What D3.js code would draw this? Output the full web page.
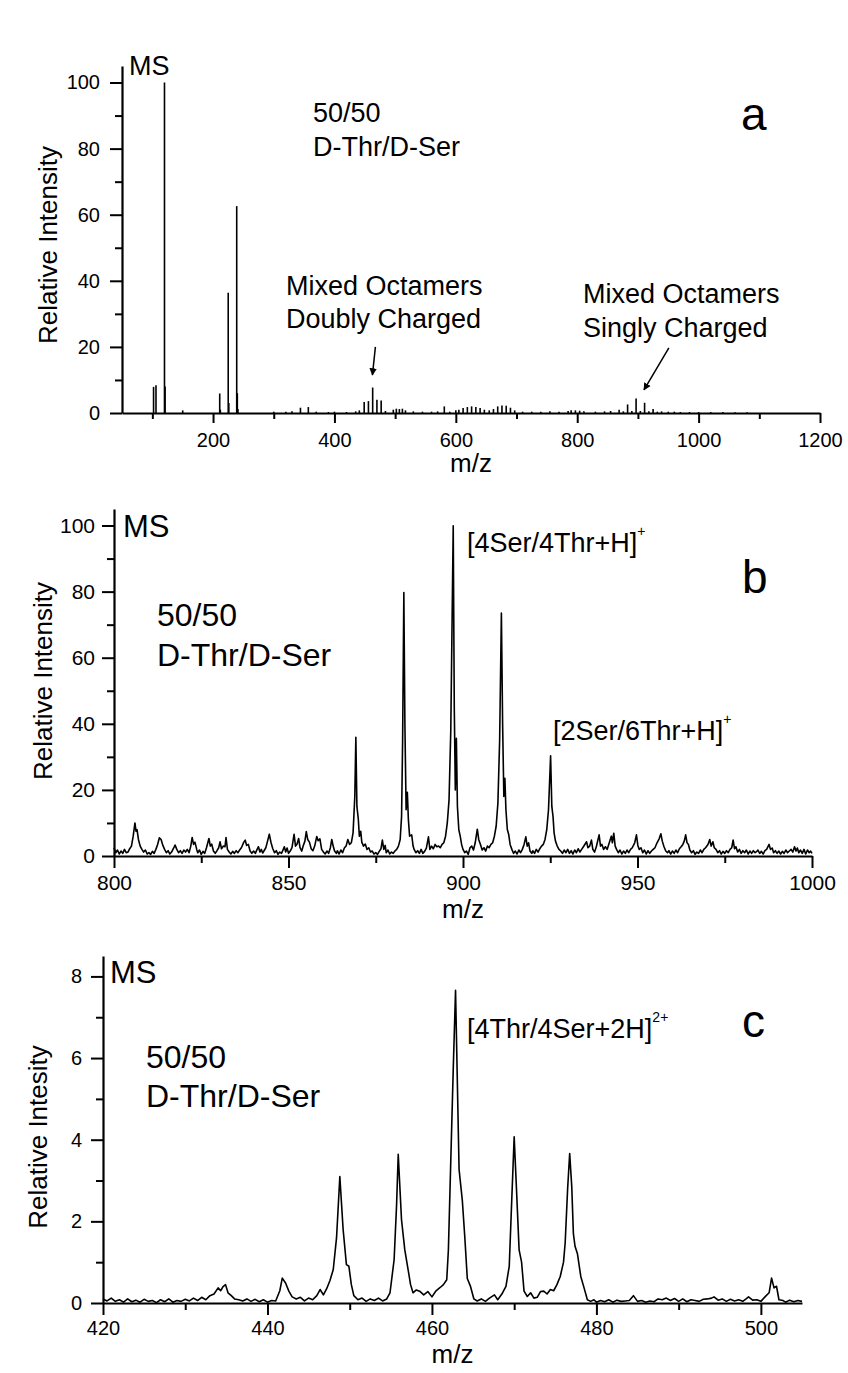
<!DOCTYPE html>
<html>
<head>
<meta charset="utf-8">
<script src="https://cdn.jsdelivr.net/npm/d3@7"></script>
<style>
body { margin: 0; background: #fff; }
text { font-family: "Liberation Sans", Arial, sans-serif; fill: #000; }
</style>
</head>
<body>
<script>
// panel a : stick spectrum, [m/z, relative intensity]
const sticksA = [
  [102, 7.9], [106, 8.4], [120, 100], [121, 8], [150, 0.8],
  [211, 5.9], [212, 1], [225, 36.4], [226, 3], [239, 62.6], [240, 6], [241, 1.2],
  [300, 0.4], [320, 0.4], [330, 0.5], [344, 1.6], [357, 1.8], [370, 0.4], [390, 0.3], [400, 0.4],
  [420, 0.3], [435, 0.5], [441, 0.8], [449, 3.3], [456, 3.6], [463, 7.7], [470, 4.0], [477, 3.8], [484, 0.6],
  [497, 1.0], [502, 1.3], [507, 1.2], [512, 1.3], [517, 0.8], [530, 0.5], [545, 0.4], [560, 0.4], [570, 0.5],
  [581, 2.0], [590, 0.4], [600, 0.8], [605, 1.0], [612, 1.5], [619, 1.8], [626, 2.0], [633, 1.8], [640, 1.5],
  [647, 1.0], [655, 0.8], [662, 1.2], [669, 2.0], [676, 2.3], [683, 2.2], [690, 1.6], [697, 0.8],
  [710, 0.4], [725, 0.4], [740, 0.4], [755, 0.5], [770, 0.4], [785, 0.6], [790, 0.8], [797, 0.8], [804, 0.7],
  [811, 0.5], [830, 0.4], [845, 0.5], [855, 0.6], [869, 1.0], [876, 0.5], [883, 2.6], [890, 0.6], [897, 4.4],
  [904, 0.6], [911, 3.1], [918, 0.5], [925, 1.2], [932, 0.4], [939, 0.5], [950, 0.4], [960, 0.4], [970, 0.3],
  [985, 0.3], [1000, 0.3], [1020, 0.3], [1040, 0.3], [1060, 0.2], [1080, 0.2]
];

// panel b : profile spectrum 800-1000
const specB = [
  [800,2.5],[800.5,1.0],[801,1.8],[801.5,0.6],[802,1.5],[802.5,0.8],[803,2.0],[803.5,1.0],[804,1.2],[804.5,2.2],
  [805,3.0],[805.5,6.0],[806,10.0],[806.3,7.5],[806.6,8.0],[807,5.0],[807.5,3.0],[808,2.0],[808.5,1.2],[809,1.8],
  [809.5,0.6],[810,1.0],[810.5,0.5],[811,1.4],[811.5,0.8],[812,2.0],[812.5,3.5],[813,5.5],[813.5,5.0],[814,3.2],
  [814.5,2.0],[815,1.0],[815.5,1.6],[816,0.6],[816.5,1.2],[817,2.2],[817.5,3.3],[818,2.0],[818.5,1.0],[819,1.6],
  [819.5,0.8],[820,1.8],[820.5,1.2],[821,2.0],[821.5,1.0],[822,3.0],[822.4,5.6],[822.8,3.5],[823.2,4.2],[823.7,2.0],
  [824,1.0],[824.5,1.8],[825,0.5],[825.5,1.4],[826,0.8],[826.5,2.5],[827.2,5.3],[827.6,3.0],[828,3.6],[828.5,1.5],
  [829,0.8],[829.5,1.6],[830,2.5],[830.4,4.3],[830.8,2.2],[831.3,3.0],[831.8,2.8],[832.1,5.6],[832.5,2.0],[833,1.2],
  [833.5,0.6],[834,1.4],[834.5,0.8],[835,1.6],[835.5,1.0],[836,1.8],[836.5,2.5],[837.2,4.2],[837.6,4.8],[838,3.2],
  [838.5,3.5],[839,1.5],[839.5,0.8],[840,1.5],[840.5,0.8],[841,2.0],[841.4,2.8],[841.8,1.2],[842.2,2.0],[842.6,0.9],
  [843,1.6],[843.5,2.5],[844,4.5],[844.5,6.6],[845,4.0],[845.5,2.2],[846,1.0],[846.5,1.6],[847,0.5],[847.5,1.2],
  [848,0.8],[848.5,2.0],[848.8,2.8],[849.2,1.2],[849.6,2.4],[850,0.8],[850.5,1.5],[851,2.5],[851.6,6.6],[852,3.0],
  [852.4,3.5],[852.9,5.3],[853.3,2.5],[853.8,1.5],[854.2,3.0],[854.7,4.5],[855.1,7.4],[855.5,5.0],[856,4.2],[856.5,2.2],
  [857,1.6],[857.5,3.0],[858.1,5.9],[858.5,4.6],[859,5.2],[859.5,2.0],[860,1.2],[860.5,0.6],[861,1.5],[861.5,0.8],
  [862,2.5],[862.4,5.0],[862.8,3.0],[863.2,1.5],[863.7,0.8],[864,1.6],[864.5,0.6],[865,1.8],[865.5,1.0],[866,2.4],
  [866.5,3.0],[867,5.0],[867.5,3.5],[868,4.0],[868.5,7.0],[869,18.0],[869.3,35.9],[869.6,15.0],[870,11.2],[870.3,6.0],
  [870.7,7.5],[871,4.2],[871.5,3.0],[872,3.6],[872.5,2.0],[873,2.5],[873.5,1.2],[874,1.5],[874.5,0.6],[875,1.0],
  [875.5,0.5],[876,1.4],[876.5,2.2],[876.9,4.8],[877.3,2.0],[877.7,3.2],[878,1.0],[878.5,1.8],[879,0.6],[879.5,1.2],
  [880,0.8],[880.5,1.5],[881,2.0],[881.5,3.0],[882,5.0],[882.4,12.0],[882.7,35.0],[883.05,79.7],[883.35,40.0],[883.7,14.0],
  [884.05,19.3],[884.35,11.0],[884.7,6.0],[885.3,6.4],[885.7,3.0],[886,2.0],[886.5,1.0],[887,1.6],[887.5,0.8],[888,2.0],
  [888.5,0.8],[889,1.4],[889.5,2.4],[890.1,5.8],[890.5,2.0],[891,3.0],[891.5,2.2],[892,3.5],[892.5,2.8],[893,3.0],
  [893.5,2.5],[894,3.5],[894.5,4.0],[895,6.0],[895.5,10.0],[896,17.0],[896.5,38.0],[897.2,99.9],[897.5,45.0],[897.8,20.0],
  [898.1,35.6],[898.4,15.0],[898.8,8.0],[899.2,6.0],[899.6,3.5],[900,2.0],[900.5,1.0],[901,1.5],[901.5,0.5],[902,2.5],
  [902.5,3.0],[903,1.8],[903.5,4.0],[904.1,8.1],[904.5,5.0],[905,3.5],[905.5,1.8],[906,2.5],[906.5,1.5],[907,3.0],
  [907.5,2.5],[908,3.5],[908.5,4.0],[909,6.0],[909.5,9.0],[910,16.0],[910.5,35.0],[911.0,73.5],[911.35,40.0],[911.7,18.0],
  [912.0,23.5],[912.3,14.0],[912.7,8.0],[913.1,6.5],[913.5,3.5],[914,2.0],[914.5,0.8],[915,1.5],[915.5,0.6],[916,1.8],
  [916.5,1.0],[917,2.0],[917.5,3.5],[918,5.8],[918.4,3.0],[918.8,4.0],[919.2,1.5],[919.7,0.8],[920,1.6],[920.5,0.8],
  [921,2.0],[921.5,1.2],[922,2.2],[922.5,3.0],[923,3.5],[923.5,5.0],[924,8.0],[924.5,14.0],[925.1,30.3],[925.45,15.0],
  [925.8,11.9],[926.1,7.0],[926.5,4.5],[927,3.0],[927.5,2.0],[928,1.5],[928.5,0.8],[929,1.8],[929.5,1.0],[930,2.0],
  [930.5,0.8],[931,1.6],[931.5,0.6],[932,1.8],[932.5,1.0],[933,2.2],[933.5,1.2],[934,2.0],[934.5,2.8],[935.4,4.3],
  [935.8,2.5],[936.3,3.0],[936.8,4.8],[937.2,2.0],[937.7,1.2],[938.2,2.8],[939.0,6.4],[939.4,3.0],[939.8,3.5],[940.3,2.0],
  [940.8,2.8],[941.3,2.0],[941.8,3.6],[942.5,6.0],[942.8,4.0],[943.2,6.9],[943.6,3.0],[944,2.0],[944.5,1.0],[945,1.8],
  [945.5,0.6],[946,1.5],[946.5,0.8],[947,1.8],[947.5,1.0],[948,2.0],[948.5,2.5],[949.2,4.0],[949.7,6.4],[950.1,3.2],
  [950.5,2.0],[951,2.5],[951.5,1.0],[952,1.8],[952.5,0.6],[953,1.6],[953.5,0.8],[954,1.5],[954.5,2.0],[955,2.5],
  [955.6,4.0],[956.2,5.2],[956.7,6.7],[957.1,4.5],[957.6,2.8],[958.1,1.5],[958.6,1.0],[959,1.6],[959.5,0.6],[960,1.5],
  [960.5,0.8],[961,1.8],[961.5,1.0],[962,2.2],[962.5,2.8],[963,3.5],[963.4,4.5],[963.8,6.4],[964.2,4.0],[964.6,3.5],
  [965,1.8],[965.5,1.0],[966,1.6],[966.5,0.5],[967,1.2],[967.5,0.8],[968,1.8],[968.5,1.0],[969,2.0],[969.5,2.5],
  [970.2,3.5],[970.7,5.0],[971.1,3.0],[971.6,4.3],[972,2.5],[972.5,2.0],[973,1.0],[973.5,1.6],[974,0.6],[974.5,1.4],
  [975,0.8],[975.5,1.6],[976,1.0],[976.5,2.0],[977,2.5],[977.4,4.8],[977.8,2.2],[978.2,2.8],[978.7,1.2],[979.2,2.0],
  [979.7,0.8],[980.2,1.6],[980.7,1.0],[981.2,1.8],[981.7,0.6],[982.2,1.5],[982.7,0.8],[983.2,1.6],[983.7,1.0],[984.2,1.4],
  [984.5,1.8],[985,0.8],[985.5,1.4],[986,0.6],[986.5,1.6],[987,2.0],[987.7,3.5],[988.1,2.0],[988.6,2.4],[989,1.0],
  [989.5,1.6],[990,0.8],[990.5,1.5],[991,0.6],[991.5,1.4],[992,0.8],[992.5,1.8],[993,1.0],[993.5,1.5],[994,2.0],
  [994.5,1.2],[995,2.8],[995.4,1.5],[995.8,2.4],[996.2,1.0],[996.7,1.8],[997.2,0.8],[997.7,2.0],[998.2,0.6],[998.7,1.8],
  [999.2,1.0],[999.6,1.5],[1000,0.8]
];

// panel c : profile spectrum 420-505 (doubly charged octamers)
const specC = [
  [420,0.10],[420.5,0.05],[421,0.12],[421.5,0.04],[422,0.08],[422.5,0.02],[423,0.10],[423.5,0.03],[424,0.07],[424.5,0.02],
  [425,0.09],[425.5,0.04],[426,0.06],[426.5,0.01],[427,0.08],[427.5,0.03],[428,0.10],[428.5,0.02],[429,0.06],[429.5,0.04],
  [430,0.09],[430.5,0.05],[431,0.12],[431.5,0.06],[432,0.14],[432.5,0.08],[433,0.18],[433.5,0.22],[434,0.37],[434.3,0.30],
  [434.6,0.40],[434.9,0.45],[435.2,0.25],[435.6,0.18],[436,0.10],[436.5,0.08],[437,0.05],[437.5,0.10],[438,0.04],[438.5,0.09],
  [439,0.03],[439.5,0.08],[440,0.02],[440.5,0.06],[441,0.05],[441.5,0.30],[441.8,0.61],[442.2,0.49],[442.6,0.29],[443,0.15],
  [443.5,0.10],[444,0.14],[444.5,0.05],[445,0.12],[445.5,0.08],[446,0.18],[446.4,0.33],[446.8,0.20],[447.2,0.35],[447.6,0.55],
  [448,0.82],[448.4,1.6],[448.8,3.1],[449.2,1.8],[449.6,0.94],[449.9,0.90],[450.2,0.45],[450.5,0.18],[451,0.08],[451.5,0.12],
  [452,0.04],[452.5,0.10],[453,0.06],[453.5,0.12],[454,0.05],[454.5,0.10],[454.9,0.25],[455.4,1.06],[455.7,2.4],[455.9,3.64],
  [456.3,2.04],[456.7,1.3],[457.1,0.82],[457.4,0.45],[457.7,0.25],[458.1,0.32],[458.5,0.29],[459,0.20],[459.5,0.28],[460,0.15],
  [460.5,0.30],[461,0.38],[461.4,0.45],[461.8,0.57],[462.0,1.3],[462.2,2.8],[462.6,5.8],[462.87,7.66],[463.3,3.27],[463.7,2.5],
  [464.0,1.6],[464.3,0.6],[464.7,0.4],[465.1,0.1],[465.5,0.05],[466,0.10],[466.5,0.04],[467,0.12],[467.6,0.20],[468,0.08],
  [468.5,0.22],[469.0,0.41],[469.4,0.9],[469.7,2.5],[470.0,4.07],[470.3,2.7],[470.6,1.3],[470.9,1.0],[471.2,0.29],[471.6,0.16],
  [472,0.25],[472.4,0.12],[472.8,0.14],[473.2,0.28],[473.6,0.29],[474,0.22],[474.4,0.33],[474.8,0.30],[475.2,0.45],[475.6,0.65],
  [476.0,1.0],[476.2,1.47],[476.5,2.8],[476.75,3.66],[477.0,2.86],[477.2,1.7],[477.4,1.39],[477.7,1.2],[478.1,0.65],[478.5,0.37],
  [478.9,0.08],[479.3,0.04],[479.7,0.08],[480,0.02],[480.5,0.06],[481,0.03],[481.5,0.08],[482,0.02],[482.5,0.07],[483,0.04],
  [483.5,0.05],[484,0.06],[484.5,0.18],[485,0.04],[485.5,0.06],[486,0.02],[486.5,0.05],[487,0.03],[487.5,0.10],[488,0.08],
  [488.5,0.12],[489,0.06],[489.5,0.11],[490,0.04],[490.5,0.10],[491,0.03],[491.5,0.08],[492,0.06],[492.5,0.04],[493,0.09],
  [493.5,0.10],[494,0.12],[494.3,0.15],[494.8,0.07],[495.3,0.10],[495.8,0.04],[496.3,0.09],[496.8,0.05],[497.3,0.08],[497.8,0.04],
  [498.2,0.10],[498.5,0.15],[499,0.07],[499.5,0.08],[500,0.04],[500.5,0.15],[501,0.25],[501.3,0.61],[501.6,0.37],[501.9,0.41],
  [502.2,0.08],[502.7,0.06],[503,0.02],[503.5,0.07],[504,0.03],[504.5,0.06],[505,0.04]
];

// tick values
const xMajorA = [200, 400, 600, 800, 1000, 1200];
const xMinorA = [100, 300, 500, 700, 900, 1100];
const yMajorA = [0, 20, 40, 60, 80, 100];
const yMinorA = [10, 30, 50, 70, 90];
const xMajorB = [800, 850, 900, 950, 1000];
const xMinorB = [825, 875, 925, 975];
const yMajorB = [0, 20, 40, 60, 80, 100];
const yMinorB = [10, 30, 50, 70, 90];
const xMajorC = [420, 440, 460, 480, 500];
const xMinorC = [430, 450, 470, 490];
const yMajorC = [0, 2, 4, 6, 8];
const yMinorC = [1, 3, 5, 7];

const svg = d3.select("body").append("svg")
  .attr("width", 848).attr("height", 1373);

svg.append("defs").append("marker")
  .attr("id", "head").attr("viewBox", "0 0 10 10").attr("refX", 9).attr("refY", 5)
  .attr("markerWidth", 5).attr("markerHeight", 6).attr("orient", "auto-start-reverse")
  .append("path").attr("d", "M0,0 L10,5 L0,10 z").attr("fill", "#000");

const fmt = d3.format("d");

function drawAxes(p) {
  const g = svg.append("g");
  const y0 = p.y.range()[0], x0 = p.x.range()[0];
  // minor ticks first
  g.append("g").attr("transform", `translate(0,${y0})`)
    .call(d3.axisBottom(p.x).tickValues(p.xMinor).tickSize(p.minX).tickFormat("").tickSizeOuter(0))
    .call(s => s.select(".domain").remove());
  g.append("g").attr("transform", `translate(${x0},0)`)
    .call(d3.axisLeft(p.y).tickValues(p.yMinor).tickSize(7).tickFormat("").tickSizeOuter(0))
    .call(s => s.select(".domain").remove());
  const xa = g.append("g").attr("transform", `translate(0,${y0})`)
    .call(d3.axisBottom(p.x).tickValues(p.xMajor).tickFormat(fmt).tickSize(p.majX).tickPadding(p.padX).tickSizeOuter(0));
  const ya = g.append("g").attr("transform", `translate(${x0},0)`)
    .call(d3.axisLeft(p.y).tickValues(p.yMajor).tickFormat(fmt).tickSize(12).tickPadding(p.padY).tickSizeOuter(0));
  g.selectAll("path,line").attr("stroke", "#000").attr("stroke-width", 2);
  g.selectAll("text").attr("font-size", p.tickFont).attr("fill", "#000")
    .style("font-family", '"Liberation Sans", Arial, sans-serif');
  xa.select(".domain").attr("stroke-width", 2.2);
  ya.select(".domain").attr("stroke-width", 2.2);
  // axis titles
  svg.append("text").attr("x", (p.x.range()[0] + p.x.range()[1]) / 2).attr("y", p.xTitleY)
    .attr("text-anchor", "middle").attr("font-size", 26).text("m/z");
  svg.append("text").attr("transform", `translate(${p.yTitleX},${p.yTitleY}) rotate(-90)`)
    .attr("text-anchor", "middle").attr("font-size", 26).text(p.yTitle);
}

function label(x, y, size, str) {
  return svg.append("text").attr("x", x).attr("y", y).attr("font-size", size).text(str);
}

// ---------- panel a ----------
const xA = d3.scaleLinear().domain([50, 1200]).range([122, 820]);
const yA = d3.scaleLinear().domain([0, 105]).range([413, 66]);
drawAxes({x: xA, y: yA, xMajor: xMajorA, xMinor: xMinorA, yMajor: yMajorA, yMinor: yMinorA,
  majX: 10, minX: 6, padX: 10, padY: 10, tickFont: 20,
  xTitleY: 472, yTitleX: 57, yTitleY: 245, yTitle: "Relative Intensity"});

svg.append("g").selectAll("line").data(sticksA).join("line")
  .attr("x1", d => xA(d[0])).attr("x2", d => xA(d[0]))
  .attr("y1", yA(0)).attr("y2", d => yA(d[1]))
  .attr("stroke", "#000").attr("stroke-width", 1.6);

label(129, 75, 27, "MS");
label(313, 122, 27, "50/50");
label(313, 156, 27, "D-Thr/D-Ser");
label(741, 130, 46, "a");
label(286, 295, 27, "Mixed Octamers");
label(286, 328, 27, "Doubly Charged");
label(583, 303, 27, "Mixed Octamers");
label(583, 337, 27, "Singly Charged");

const arrowsA = [[[467.5, 20], [462.6, 11.5]], [[951, 19.7], [910, 7]]];
svg.append("g").selectAll("path").data(arrowsA).join("path")
  .attr("d", d => `M${xA(d[0][0])},${yA(d[0][1])} L${xA(d[1][0])},${yA(d[1][1])}`)
  .attr("stroke", "#000").attr("stroke-width", 1.5).attr("marker-end", "url(#head)");

// ---------- panel b ----------
const xB = d3.scaleLinear().domain([800, 1000]).range([114, 812]);
const yB = d3.scaleLinear().domain([0, 105]).range([856, 509]);
drawAxes({x: xB, y: yB, xMajor: xMajorB, xMinor: xMinorB, yMajor: yMajorB, yMinor: yMinorB,
  majX: 12, minX: 7, padX: 7, padY: 7, tickFont: 21,
  xTitleY: 918, yTitleX: 52, yTitleY: 681, yTitle: "Relative Intensity"});

svg.append("path").datum(specB)
  .attr("d", d3.line().x(d => xB(d[0])).y(d => yB(d[1])))
  .attr("fill", "none").attr("stroke", "#000").attr("stroke-width", 1.6).attr("stroke-linejoin", "round");

label(123, 537, 31, "MS");
label(157, 626, 32, "50/50");
label(157, 666, 32, "D-Thr/D-Ser");
label(742, 593, 46, "b");
label(467, 552, 27, "[4Ser/4Thr+H]").append("tspan").attr("dy", -16).attr("font-size", 14).text("+");
label(553, 740, 27, "[2Ser/6Thr+H]").append("tspan").attr("dy", -16).attr("font-size", 14).text("+");

// ---------- panel c ----------
const xC = d3.scaleLinear().domain([420, 505]).range([103, 802]);
const yC = d3.scaleLinear().domain([0, 8.5]).range([1303, 956]);
drawAxes({x: xC, y: yC, xMajor: xMajorC, xMinor: xMinorC, yMajor: yMajorC, yMinor: yMinorC,
  majX: 12, minX: 7, padX: 6, padY: 9, tickFont: 20,
  xTitleY: 1363, yTitleX: 47, yTitleY: 1137, yTitle: "Relative Intesity"});

svg.append("path").datum(specC)
  .attr("d", d3.line().x(d => xC(d[0])).y(d => yC(d[1])))
  .attr("fill", "none").attr("stroke", "#000").attr("stroke-width", 1.6).attr("stroke-linejoin", "round");

label(110, 983, 31, "MS");
label(146, 1068, 32, "50/50");
label(146, 1107, 32, "D-Thr/D-Ser");
label(742, 1037, 46, "c");
label(467, 1038, 27, "[4Thr/4Ser+2H]").append("tspan").attr("dy", -16).attr("font-size", 14).text("2+");
</script>
</body>
</html>
